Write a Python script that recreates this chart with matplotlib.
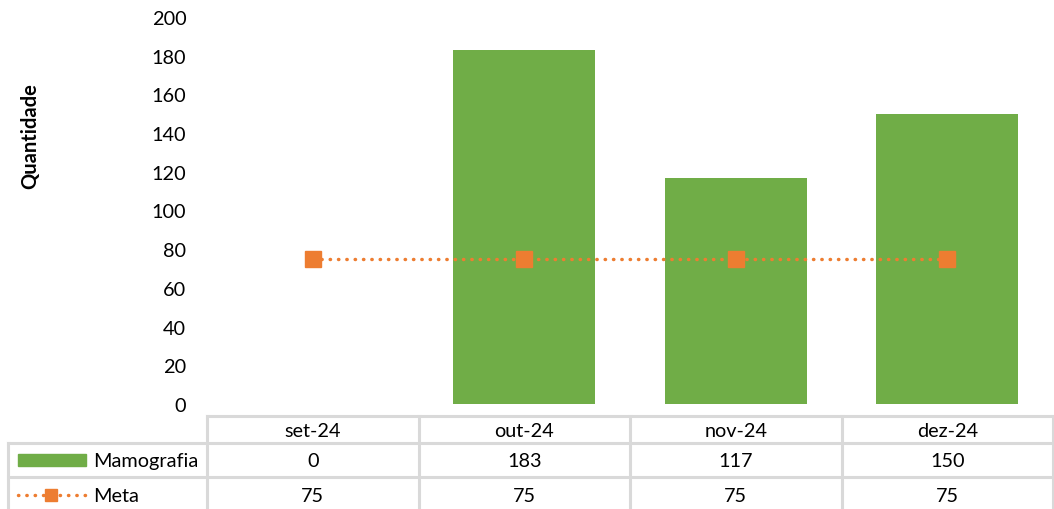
import matplotlib
matplotlib.use("Agg")
import matplotlib.pyplot as plt
from matplotlib.lines import Line2D
from matplotlib.patches import Rectangle

categories = ["set-24", "out-24", "nov-24", "dez-24"]
mamografia = [0, 183, 117, 150]
meta = [75, 75, 75, 75]
series_names = ["Mamografia", "Meta"]
y_ticks = [0, 20, 40, 60, 80, 100, 120, 140, 160, 180, 200]

W, H = 1054, 510
GREEN = "#70AD47"
ORANGE = "#ED7D31"
GRID = "#D9D9D9"
FONT = "Lato"
FS = 14.3
DOT = (0, (0.1, 2.3))
LW = 2.5

plt.rcParams['font.family'] = [FONT, 'DejaVu Sans']

fig = plt.figure(figsize=(W / 100, H / 100), dpi=100)

def fx(px):
    return px / W

def fy(py):
    return 1 - py / H

left, right, top, bottom = 207, 1053, 18, 405
ax = fig.add_axes([fx(left), fy(bottom), fx(right - left), fy(top) - fy(bottom)])
x = list(range(len(categories)))
ax.bar(x, mamografia, width=0.67, color=GREEN, zorder=2)
ax.plot(x, meta, color=ORANGE, linestyle=DOT, linewidth=LW,
        dash_capstyle='round', marker='s', markersize=12, zorder=3)
ax.set_xlim(-0.5, len(categories) - 0.5)
ax.set_ylim(0, 200)
ax.set_yticks(y_ticks)
ax.set_yticklabels([str(t) for t in y_ticks], fontsize=FS)
ax.tick_params(axis='y', length=0, pad=15)
ax.set_xticks([])
for s in ax.spines.values():
    s.set_visible(False)

fig.text(fx(30), fy(136), "Quantidade", rotation=90, fontsize=14.5, fontweight='bold',
         ha='center', va='center')

# Data table
col_edges = [left + i * (right - left) / len(categories) for i in range(len(categories) + 1)]
lc = dict(color=GRID, linewidth=2.2, transform=fig.transFigure)
fig.add_artist(Line2D([fx(left), fx(right)], [fy(417), fy(417)], **lc))
for yy in (444, 478):
    fig.add_artist(Line2D([fx(8), fx(right)], [fy(yy), fy(yy)], **lc))
for xx in col_edges:
    fig.add_artist(Line2D([fx(xx), fx(xx)], [fy(417), fy(510)], **lc))
fig.add_artist(Line2D([fx(8), fx(8)], [fy(444), fy(510)], **lc))

for i, c in enumerate(categories):
    cx = (col_edges[i] + col_edges[i + 1]) / 2
    fig.text(fx(cx), fy(432), c, ha='center', va='center', fontsize=FS)
    fig.text(fx(cx), fy(462), str(mamografia[i]), ha='center', va='center', fontsize=FS)
    fig.text(fx(cx), fy(497), str(meta[i]), ha='center', va='center', fontsize=FS)

# legend keys
fig.add_artist(Rectangle((fx(18), fy(467)), fx(68), fy(455) - fy(467), color=GREEN,
                         transform=fig.transFigure))
fig.add_artist(Line2D([fx(18), fx(87)], [fy(496), fy(496)], color=ORANGE,
                      linestyle=DOT, linewidth=LW, dash_capstyle='round',
                      transform=fig.transFigure))
fig.add_artist(Line2D([fx(51)], [fy(496)], color=ORANGE, marker='s', markersize=9,
                      linestyle='none', transform=fig.transFigure))
fig.text(fx(93), fy(462), series_names[0], ha='left', va='center', fontsize=FS)
fig.text(fx(93), fy(497), series_names[1], ha='left', va='center', fontsize=FS)

fig.savefig("out.png", dpi=100)
